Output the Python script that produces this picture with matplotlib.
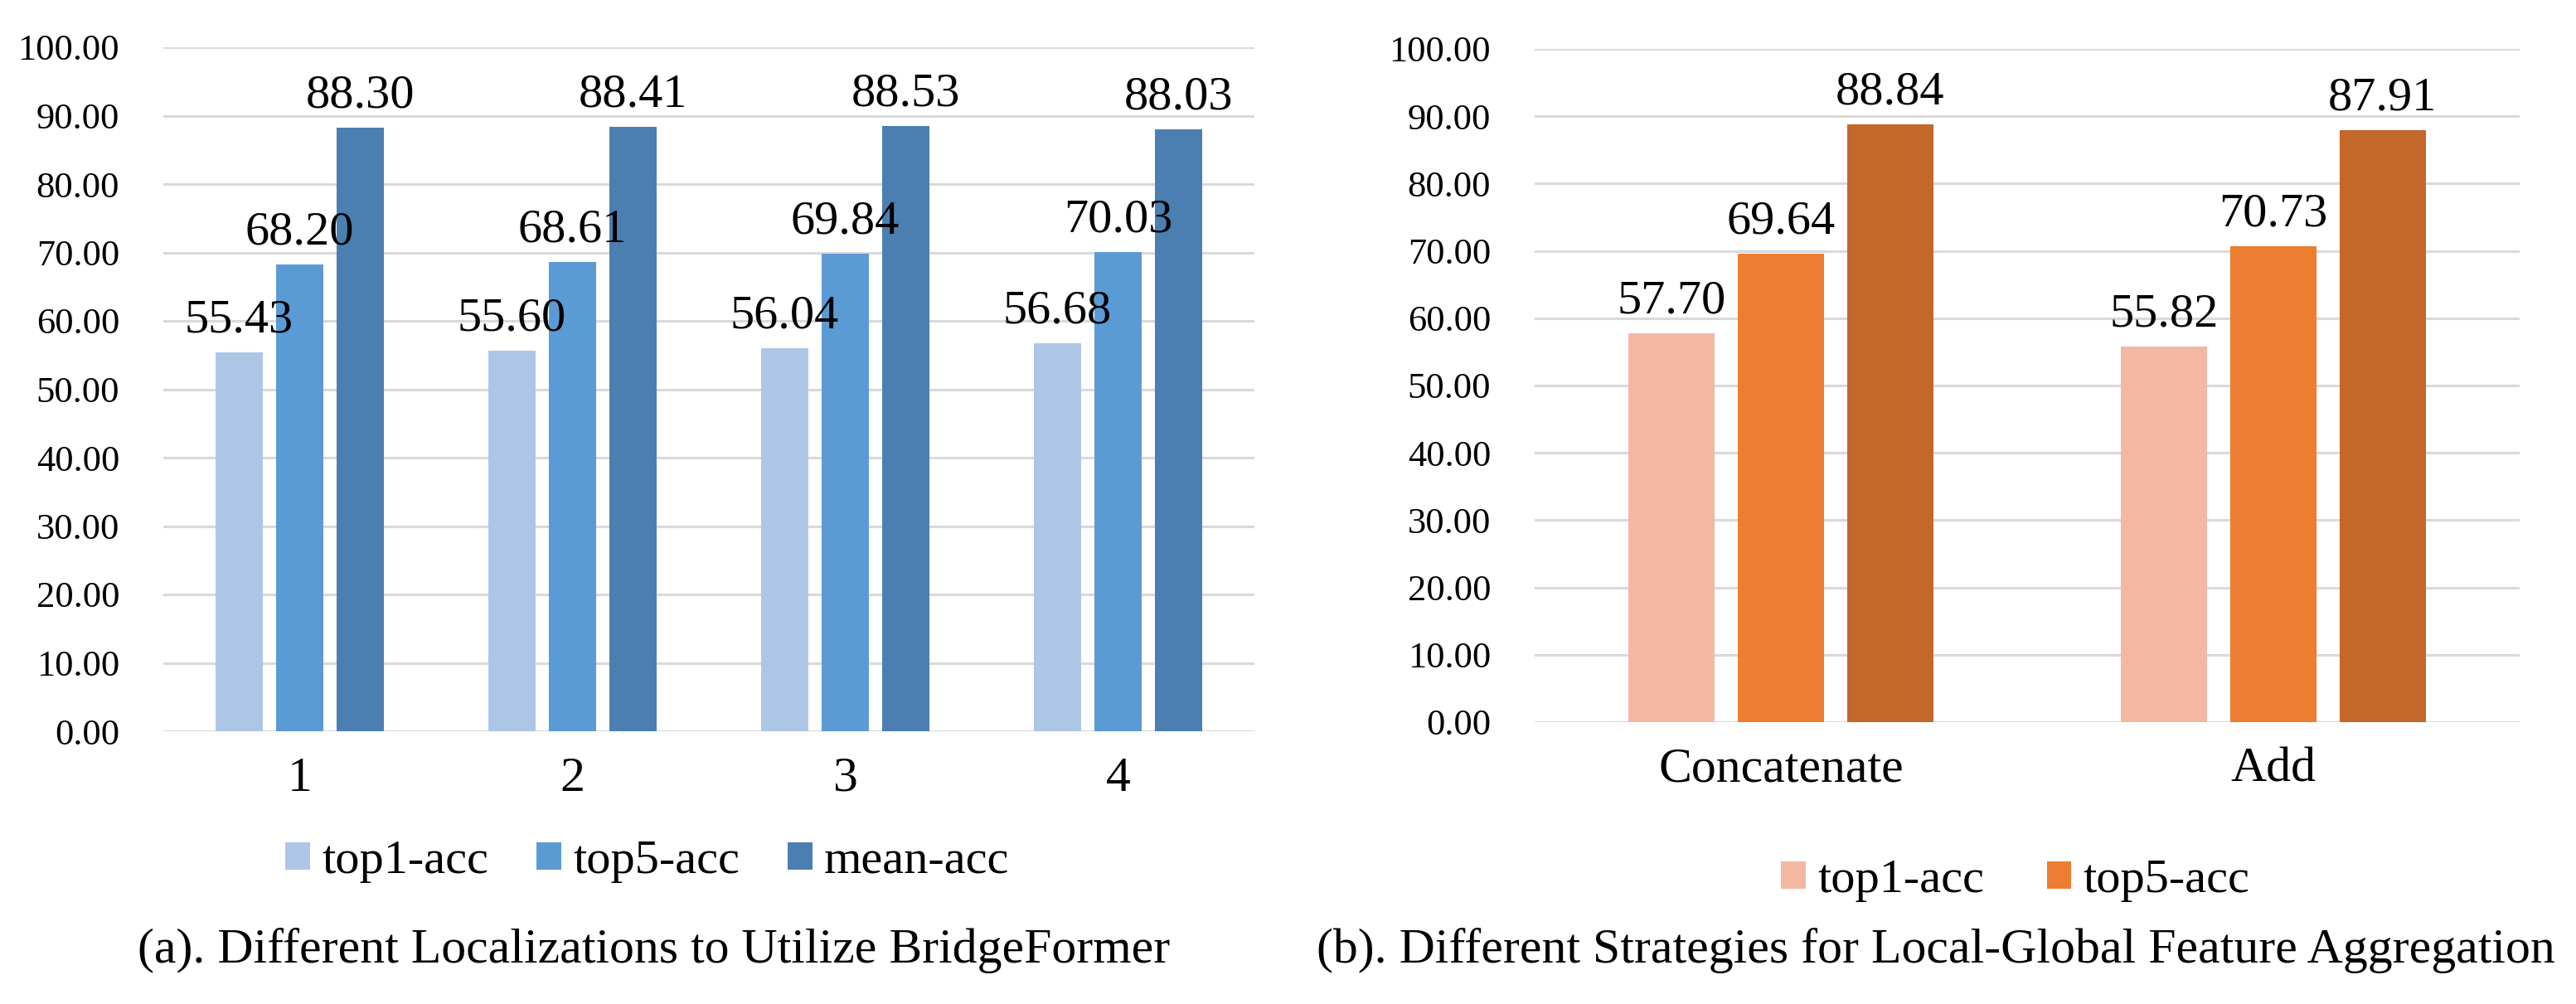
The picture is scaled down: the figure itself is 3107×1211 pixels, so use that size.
import numpy as np
import matplotlib.pyplot as plt

plt.rcParams['font.family'] = ['Liberation Serif', 'DejaVu Serif']

# (a) localizations
loc_cats = ['1', '2', '3', '4']
loc_top1 = [55.43, 55.60, 56.04, 56.68]
loc_top5 = [68.20, 68.61, 69.84, 70.03]
loc_mean = [88.30, 88.41, 88.53, 88.03]

# (b) aggregation strategies
agg_cats = ['Concatenate', 'Add']
agg_top1 = [57.70, 55.82]
agg_top5 = [69.64, 70.73]
agg_mean = [88.84, 87.91]

series_names = ['top1-acc', 'top5-acc', 'mean-acc']
blue_colors = ['#AEC6E6', '#5B9BD5', '#4B7FB1']
orange_colors = ['#F4B8A2', '#ED7D31', '#C3672A']

W, H = 3107, 1211
fig = plt.figure(figsize=(W / 100, H / 100), dpi=100)


def draw_panel(ax, cats, series, colors):
    x = np.arange(len(cats))
    width = 0.175
    step = 0.222
    bars = []
    for i, (vals, col) in enumerate(zip(series, colors)):
        b = ax.bar(x + (i - 1) * step, vals, width, color=col, zorder=3,
                   label=series_names[i])
        bars.append(b)
    # labels go on top of every bar, like the original
    for i, vals in enumerate(series):
        for xi, v in zip(x + (i - 1) * step, vals):
            ax.annotate(f'{v:.2f}', (xi, v), xytext=(0, 9),
                        textcoords='offset points', ha='center', va='bottom',
                        fontsize=42, zorder=6)
    ax.set_xlim(-0.5, len(cats) - 0.5)
    ax.set_ylim(0, 100)
    ax.set_yticks(np.arange(0, 101, 10))
    ax.set_yticklabels([f'{v:.2f}' for v in np.arange(0, 101, 10)])
    ax.set_xticks(x)
    ax.set_xticklabels(cats)
    ax.tick_params(axis='y', length=0, pad=38, labelsize=32)
    ax.tick_params(axis='x', length=0, pad=22, labelsize=43)
    ax.yaxis.grid(True, color='#D9D9D9', linewidth=2.2, zorder=0)
    ax.set_axisbelow(True)
    for s in ax.spines.values():
        s.set_visible(False)
    return bars


ax1 = fig.add_axes([197 / W, 1 - 882 / H, 1316 / W, 825 / H])
bars1 = draw_panel(ax1, loc_cats, [loc_top1, loc_top5, loc_mean], blue_colors)
fig.legend(handles=bars1, loc='center', bbox_to_anchor=(781 / W, 1 - 1039 / H),
           ncol=3, frameon=False, fontsize=42, handlelength=0.5,
           handleheight=0.5, handletextpad=0.25, columnspacing=1.0)

ax2 = fig.add_axes([1851 / W, 1 - 871 / H, 1188 / W, 812 / H])
bars2 = draw_panel(ax2, agg_cats, [agg_top1, agg_top5, agg_mean], orange_colors)
fig.legend(handles=bars2[:2], loc='center', bbox_to_anchor=(2431 / W, 1 - 1062 / H),
           ncol=2, frameon=False, fontsize=42, handlelength=0.5,
           handleheight=0.5, handletextpad=0.25, columnspacing=1.3)

fig.text(789 / W, 1 - 1147 / H, '(a). Different Localizations to Utilize BridgeFormer',
         ha='center', va='center', fontsize=43)
fig.text(2335 / W, 1 - 1147 / H, '(b). Different Strategies for Local-Global Feature Aggregation',
         ha='center', va='center', fontsize=43)

fig.savefig('out.png', dpi=100, facecolor='white')
